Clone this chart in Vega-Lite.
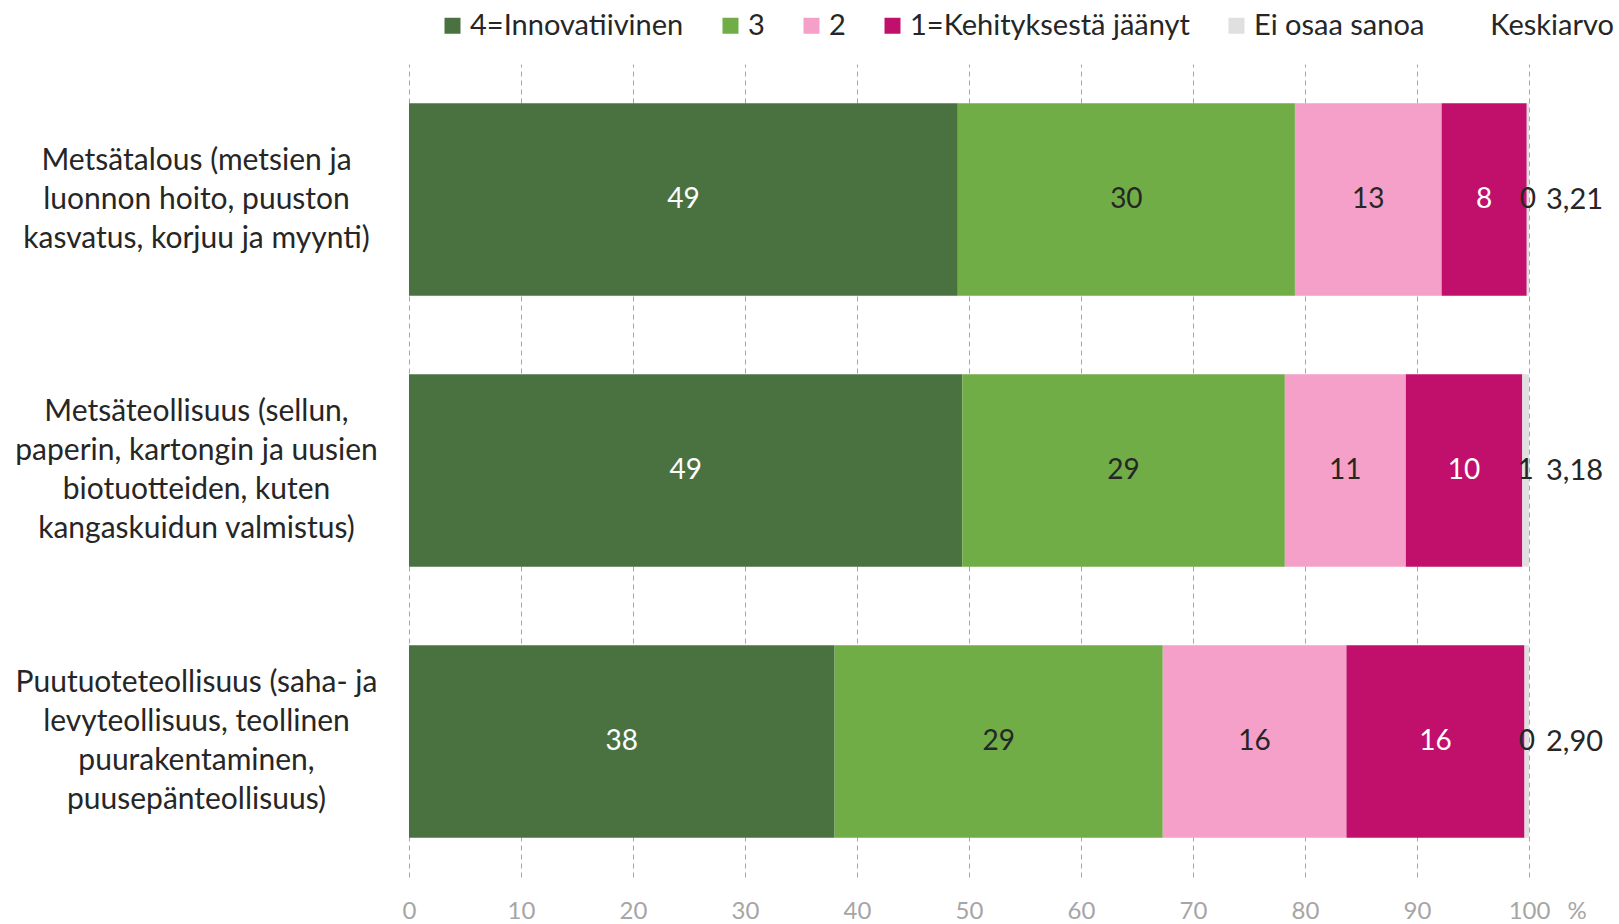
{
  "$schema": "https://vega.github.io/schema/vega-lite/v6.json",
  "autosize": {"type": "none"},
  "width": 1120,
  "height": 813,
  "padding": {"left": 409, "top": 64, "right": 90, "bottom": 47},
  "background": "white",
  "config": {
    "font": "Lato",
    "view": {"stroke": null}
  },
  "title": {
    "text": "Keskiarvo",
    "anchor": "end",
    "frame": "group",
    "orient": "top",
    "fontSize": 29,
    "fontWeight": "normal",
    "color": "#262626",
    "dx": 85,
    "offset": -30
  },
  "datasets": {
    "segments": [
      {"sector": "Metsätalous (metsien ja|luonnon hoito, puuston|kasvatus, korjuu ja myynti)", "category": "4=Innovatiivinen", "order": 1, "value": 49.0},
      {"sector": "Metsätalous (metsien ja|luonnon hoito, puuston|kasvatus, korjuu ja myynti)", "category": "3", "order": 2, "value": 30.1},
      {"sector": "Metsätalous (metsien ja|luonnon hoito, puuston|kasvatus, korjuu ja myynti)", "category": "2", "order": 3, "value": 13.1},
      {"sector": "Metsätalous (metsien ja|luonnon hoito, puuston|kasvatus, korjuu ja myynti)", "category": "1=Kehityksestä jäänyt", "order": 4, "value": 7.6},
      {"sector": "Metsätalous (metsien ja|luonnon hoito, puuston|kasvatus, korjuu ja myynti)", "category": "Ei osaa sanoa", "order": 5, "value": 0.2},
      {"sector": "Metsäteollisuus (sellun,|paperin, kartongin ja uusien|biotuotteiden, kuten|kangaskuidun valmistus)", "category": "4=Innovatiivinen", "order": 1, "value": 49.4},
      {"sector": "Metsäteollisuus (sellun,|paperin, kartongin ja uusien|biotuotteiden, kuten|kangaskuidun valmistus)", "category": "3", "order": 2, "value": 28.8},
      {"sector": "Metsäteollisuus (sellun,|paperin, kartongin ja uusien|biotuotteiden, kuten|kangaskuidun valmistus)", "category": "2", "order": 3, "value": 10.8},
      {"sector": "Metsäteollisuus (sellun,|paperin, kartongin ja uusien|biotuotteiden, kuten|kangaskuidun valmistus)", "category": "1=Kehityksestä jäänyt", "order": 4, "value": 10.4},
      {"sector": "Metsäteollisuus (sellun,|paperin, kartongin ja uusien|biotuotteiden, kuten|kangaskuidun valmistus)", "category": "Ei osaa sanoa", "order": 5, "value": 0.6},
      {"sector": "Puutuoteteollisuus (saha- ja|levyteollisuus, teollinen|puurakentaminen,|puusepänteollisuus)", "category": "4=Innovatiivinen", "order": 1, "value": 38.0},
      {"sector": "Puutuoteteollisuus (saha- ja|levyteollisuus, teollinen|puurakentaminen,|puusepänteollisuus)", "category": "3", "order": 2, "value": 29.3},
      {"sector": "Puutuoteteollisuus (saha- ja|levyteollisuus, teollinen|puurakentaminen,|puusepänteollisuus)", "category": "2", "order": 3, "value": 16.4},
      {"sector": "Puutuoteteollisuus (saha- ja|levyteollisuus, teollinen|puurakentaminen,|puusepänteollisuus)", "category": "1=Kehityksestä jäänyt", "order": 4, "value": 15.9},
      {"sector": "Puutuoteteollisuus (saha- ja|levyteollisuus, teollinen|puurakentaminen,|puusepänteollisuus)", "category": "Ei osaa sanoa", "order": 5, "value": 0.4}
    ],
    "means": [
      {"sector": "Metsätalous (metsien ja|luonnon hoito, puuston|kasvatus, korjuu ja myynti)", "pos": 100, "mean": "3,21"},
      {"sector": "Metsäteollisuus (sellun,|paperin, kartongin ja uusien|biotuotteiden, kuten|kangaskuidun valmistus)", "pos": 100, "mean": "3,18"},
      {"sector": "Puutuoteteollisuus (saha- ja|levyteollisuus, teollinen|puurakentaminen,|puusepänteollisuus)", "pos": 100, "mean": "2,90"}
    ]
  },
  "encoding": {
    "y": {
      "field": "sector",
      "type": "nominal",
      "sort": null,
      "title": null,
      "scale": {"paddingInner": 0.29, "paddingOuter": 0.145},
      "axis": {
        "domain": false,
        "ticks": false,
        "tickSize": 0,
        "labelAlign": "center",
        "labelBaseline": "middle",
        "labelPadding": 213,
        "labelFontSize": 30,
        "labelColor": "#262626",
        "labelLineHeight": 39,
        "labelLimit": 500,
        "labelOffset": {"condition": {"test": "length(split(datum.value, '|')) == 3", "value": -39}, "value": -58.5},
        "labelExpr": "split(datum.label, '|')"
      }
    }
  },
  "layer": [
    {
      "data": {"name": "segments"},
      "transform": [
        {"stack": "value", "groupby": ["sector"], "sort": [{"field": "order", "order": "ascending"}], "as": ["x0", "x1"]},
        {"calculate": "(datum.x0 + datum.x1) / 2", "as": "mid"}
      ],
      "layer": [
        {
          "mark": {"type": "bar"},
          "encoding": {
            "x": {
              "field": "x0",
              "type": "quantitative",
              "scale": {"domain": [0, 100], "nice": false},
              "title": "%",
              "axis": {
                "values": [0, 10, 20, 30, 40, 50, 60, 70, 80, 90, 100],
                "domain": false,
                "ticks": false,
                "grid": true,
                "gridDash": [5, 4],
                "gridColor": "#a6a6a6",
                "gridWidth": 1,
                "labelFontSize": 24,
                "labelColor": "#a6a6a6",
                "labelPadding": 22,
                "labelFlush": false,
                "titleFontSize": 24,
                "titleFontWeight": "normal",
                "titleColor": "#a6a6a6",
                "titleAlign": "left",
                "titleAnchor": null,
                "titleX": 1158,
                "titleY": 22,
                "titleBaseline": "top"
              }
            },
            "x2": {"field": "x1"},
            "color": {
              "field": "category",
              "type": "nominal",
              "sort": null,
              "scale": {
                "domain": ["4=Innovatiivinen", "3", "2", "1=Kehityksestä jäänyt", "Ei osaa sanoa"],
                "range": ["#4a7240", "#70ad47", "#f4a0c8", "#c1106c", "#e0e0e0"]
              },
              "legend": {
                "title": null,
                "orient": "none",
                "direction": "horizontal",
                "legendX": 29,
                "legendY": -53,
                "symbolType": "square",
                "symbolSize": 256,
                "symbolStrokeWidth": 0,
                "labelFontSize": 29,
                "labelColor": "#262626",
                "labelOffset": 3,
                "columnPadding": 32,
                "labelLimit": 400,
                "padding": 0
              }
            }
          }
        },
        {
          "mark": {"type": "text", "fontSize": 28, "baseline": "middle", "align": "center"},
          "encoding": {
            "x": {"field": "mid", "type": "quantitative"},
            "text": {"field": "value", "type": "quantitative", "format": ".0f"},
            "color": {
              "condition": {"test": "datum.order == 1 || datum.order == 4", "value": "white"},
              "value": "#262626"
            }
          }
        }
      ]
    },
    {
      "data": {"name": "means"},
      "mark": {"type": "text", "fontSize": 29, "baseline": "middle", "align": "left", "dx": 17, "color": "#262626"},
      "encoding": {
        "x": {"field": "pos", "type": "quantitative"},
        "text": {"field": "mean", "type": "nominal"}
      }
    }
  ]
}
